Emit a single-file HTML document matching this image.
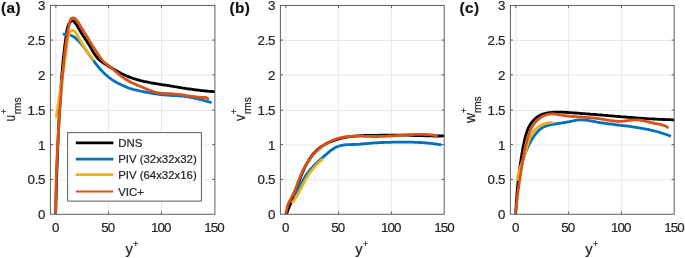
<!DOCTYPE html>
<html lang="en"><head><meta charset="utf-8"><title>rms profiles</title>
<style>html,body{margin:0;padding:0;background:#fff}svg{display:block;filter:blur(0.35px)}text{stroke:#262626;stroke-width:.22px}</style>
</head><body>
<svg width="685" height="258" viewBox="0 0 685 258" font-family='"Liberation Sans", Arial, Helvetica, sans-serif' fill="#262626">
<rect width="685" height="258" fill="#fff"/>
<g stroke="#e8e8e8" stroke-width="1"><line x1="55.85" y1="5.45" x2="55.85" y2="214.25"/><line x1="108.45" y1="5.45" x2="108.45" y2="214.25"/><line x1="161.45" y1="5.45" x2="161.45" y2="214.25"/><line x1="50.40" y1="179.85" x2="214.90" y2="179.85"/><line x1="50.40" y1="145.00" x2="214.90" y2="145.00"/><line x1="50.40" y1="110.50" x2="214.90" y2="110.50"/><line x1="50.40" y1="75.20" x2="214.90" y2="75.20"/><line x1="50.40" y1="40.45" x2="214.90" y2="40.45"/></g>
<clipPath id="cp0"><rect x="50.40" y="5.45" width="164.50" height="208.80"/></clipPath>
<g fill="none" stroke-width="2.80" stroke-linejoin="round" stroke-linecap="butt" clip-path="url(#cp0)"><path d="M55.6 214.5 L55.6 213.0 L55.7 211.5 L55.7 210.0 L55.8 208.5 L55.8 207.0 L55.9 205.5 L55.9 204.0 L55.9 202.5 L56.0 201.0 L56.0 199.5 L56.1 198.0 L56.1 196.5 L56.1 195.0 L56.2 193.5 L56.2 191.9 L56.3 190.4 L56.3 188.9 L56.4 187.4 L56.4 185.9 L56.5 184.4 L56.5 182.9 L56.6 181.4 L56.6 179.9 L56.6 178.4 L56.7 176.9 L56.7 175.4 L56.8 173.9 L56.8 172.4 L56.9 170.9 L56.9 169.4 L57.0 167.8 L57.0 166.3 L57.1 164.8 L57.2 163.3 L57.2 161.8 L57.3 160.3 L57.3 158.8 L57.4 157.3 L57.4 155.8 L57.5 154.3 L57.5 152.8 L57.6 151.3 L57.7 149.8 L57.7 148.2 L57.8 146.7 L57.8 145.2 L57.9 143.7 L58.0 142.2 L58.0 140.7 L58.1 139.2 L58.2 137.7 L58.2 136.2 L58.3 134.7 L58.4 133.2 L58.4 131.7 L58.5 130.2 L58.6 128.6 L58.7 127.1 L58.7 125.6 L58.8 124.1 L58.9 122.6 L58.9 121.1 L59.0 119.6 L59.1 118.1 L59.2 116.6 L59.3 115.1 L59.3 113.6 L59.4 112.1 L59.5 110.6 L59.6 109.1 L59.7 107.6 L59.8 106.1 L59.9 104.6 L59.9 103.1 L60.0 101.6 L60.1 100.1 L60.2 98.6 L60.3 97.1 L60.4 95.6 L60.5 94.1 L60.6 92.6 L60.7 91.1 L60.8 89.6 L60.9 88.1 L61.0 86.6 L61.1 85.1 L61.2 83.6 L61.3 82.1 L61.4 80.6 L61.5 79.1 L61.6 77.6 L61.8 76.1 L61.9 74.6 L62.0 73.1 L62.1 71.6 L62.2 70.1 L62.4 68.6 L62.5 67.1 L62.6 65.6 L62.8 64.1 L62.9 62.6 L63.0 61.1 L63.2 59.6 L63.3 58.1 L63.5 56.6 L63.7 55.1 L63.8 53.6 L64.0 52.1 L64.2 50.6 L64.3 49.1 L64.5 47.6 L64.7 46.1 L64.9 44.6 L65.1 43.1 L65.3 41.6 L65.5 40.1 L65.7 38.6 L65.9 37.0 L66.1 35.5 L66.4 34.0 L66.6 32.5 L66.8 31.0 L67.1 29.5 L67.4 28.0 L67.8 26.6 L68.3 25.2 L68.9 23.9 L69.7 22.8 L70.7 21.7 L71.9 20.8 L73.2 20.8 L74.3 21.8 L75.3 23.1 L76.2 24.3 L77.1 25.6 L77.9 27.0 L78.6 28.3 L79.3 29.6 L80.1 30.9 L80.9 32.2 L81.7 33.5 L82.5 34.7 L83.3 36.0 L84.1 37.2 L85.0 38.4 L85.8 39.7 L86.6 40.9 L87.5 42.2 L88.3 43.5 L89.0 44.8 L89.8 46.1 L90.6 47.4 L91.3 48.7 L92.1 50.1 L92.8 51.4 L93.6 52.7 L94.5 54.0 L95.3 55.2 L96.2 56.4 L97.1 57.6 L98.1 58.7 L99.2 59.7 L100.3 60.7 L101.5 61.6 L102.7 62.4 L104.0 63.3 L105.2 64.1 L106.5 64.9 L107.8 65.7 L109.1 66.5 L110.4 67.3 L111.7 68.0 L113.0 68.8 L114.3 69.6 L115.6 70.3 L116.9 71.1 L118.3 71.8 L119.6 72.5 L120.9 73.2 L122.3 73.9 L123.6 74.5 L125.0 75.2 L126.4 75.8 L127.7 76.4 L129.1 76.9 L130.5 77.5 L131.9 78.0 L133.3 78.5 L134.8 78.9 L136.2 79.4 L137.6 79.8 L139.1 80.2 L140.5 80.6 L142.0 80.9 L143.5 81.3 L144.9 81.6 L146.4 81.9 L147.9 82.2 L149.4 82.5 L150.9 82.8 L152.3 83.0 L153.8 83.3 L155.3 83.5 L156.8 83.8 L158.3 84.0 L159.8 84.3 L161.3 84.5 L162.8 84.8 L164.3 85.0 L165.8 85.2 L167.3 85.5 L168.8 85.7 L170.2 86.0 L171.7 86.2 L173.2 86.4 L174.7 86.7 L176.2 86.9 L177.7 87.2 L179.2 87.4 L180.6 87.6 L182.1 87.9 L183.6 88.1 L185.1 88.3 L186.6 88.6 L188.1 88.8 L189.5 89.0 L191.0 89.2 L192.5 89.4 L194.0 89.6 L195.5 89.8 L197.0 90.0 L198.5 90.2 L200.0 90.4 L201.5 90.6 L203.0 90.7 L204.5 90.9 L206.0 91.0 L207.5 91.2 L209.0 91.3 L210.5 91.4 L212.0 91.5 L213.5 91.6 L215.0 91.7" stroke="#000000"/><path d="M62.8 34.2 L64.4 34.1 L66.0 34.2 L67.5 34.4 L69.0 34.7 L70.4 35.2 L71.8 35.8 L73.1 36.4 L74.3 37.2 L75.5 38.1 L76.7 39.1 L77.8 40.1 L78.9 41.2 L79.9 42.3 L80.9 43.5 L81.9 44.7 L82.9 45.9 L83.8 47.2 L84.8 48.4 L85.7 49.7 L86.6 50.9 L87.5 52.2 L88.4 53.4 L89.2 54.7 L90.1 55.9 L91.0 57.2 L91.9 58.4 L92.8 59.6 L93.7 60.8 L94.5 62.1 L95.5 63.3 L96.4 64.5 L97.3 65.6 L98.3 66.8 L99.2 68.0 L100.2 69.1 L101.3 70.2 L102.3 71.3 L103.4 72.4 L104.5 73.5 L105.6 74.5 L106.7 75.5 L107.9 76.5 L109.1 77.5 L110.3 78.4 L111.5 79.3 L112.8 80.2 L114.1 81.0 L115.4 81.8 L116.7 82.5 L118.1 83.2 L119.5 83.9 L120.9 84.6 L122.2 85.2 L123.6 85.8 L125.0 86.4 L126.4 87.1 L127.8 87.6 L129.3 88.2 L130.7 88.7 L132.1 89.1 L133.6 89.5 L135.1 89.9 L136.6 90.2 L138.0 90.5 L139.5 90.9 L141.0 91.2 L142.5 91.5 L144.0 91.8 L145.5 92.1 L147.0 92.4 L148.5 92.7 L150.0 93.0 L151.5 93.2 L153.0 93.5 L154.5 93.7 L156.0 94.0 L157.5 94.2 L159.0 94.4 L160.6 94.6 L162.1 94.7 L163.6 94.8 L165.1 95.0 L166.6 95.1 L168.2 95.2 L169.7 95.3 L171.2 95.4 L172.7 95.5 L174.3 95.5 L175.8 95.6 L177.3 95.7 L178.8 95.8 L180.4 96.0 L181.9 96.1 L183.4 96.2 L184.9 96.4 L186.4 96.6 L187.9 96.8 L189.4 97.1 L190.9 97.3 L192.4 97.6 L193.9 97.9 L195.4 98.3 L196.9 98.6 L198.4 99.0 L199.8 99.4 L201.3 99.8 L202.8 100.2 L204.3 100.6 L205.7 101.0 L207.2 101.4 L208.7 101.8 L210.1 102.2 L211.6 102.6" stroke="#0072bd"/><path d="M56.2 117.9 L56.5 116.4 L56.7 114.9 L56.9 113.4 L57.1 111.9 L57.3 110.4 L57.6 108.9 L57.8 107.4 L58.0 105.8 L58.2 104.3 L58.4 102.8 L58.7 101.3 L58.9 99.8 L59.1 98.3 L59.3 96.8 L59.6 95.3 L59.8 93.8 L60.0 92.3 L60.2 90.8 L60.5 89.3 L60.7 87.8 L60.9 86.3 L61.1 84.8 L61.4 83.3 L61.6 81.7 L61.8 80.2 L62.0 78.7 L62.3 77.2 L62.5 75.7 L62.7 74.2 L62.9 72.7 L63.2 71.2 L63.4 69.7 L63.6 68.2 L63.8 66.7 L64.1 65.2 L64.3 63.7 L64.5 62.2 L64.7 60.7 L64.9 59.2 L65.2 57.7 L65.4 56.2 L65.6 54.7 L65.8 53.2 L66.0 51.6 L66.2 50.1 L66.4 48.6 L66.6 47.1 L66.8 45.6 L67.0 44.1 L67.2 42.6 L67.4 41.0 L67.6 39.5 L67.9 38.0 L68.2 36.5 L68.7 35.1 L69.3 33.6 L70.0 32.2 L70.9 31.0 L71.9 30.3 L73.2 30.5 L74.5 31.3 L75.6 32.4 L76.4 33.7 L77.2 35.0 L78.0 36.4 L78.8 37.8 L79.5 39.1 L80.3 40.5 L81.1 41.8 L81.8 43.1 L82.6 44.4 L83.4 45.7 L84.3 46.9 L85.1 48.2 L85.9 49.5 L86.8 50.7 L87.6 51.9 L88.5 53.2 L89.4 54.4 L90.3 55.6 L91.2 56.8 L92.1 58.1 L93.0 59.3 L94.0 60.5" stroke="#edb120"/><path d="M55.6 214.5 L55.6 213.0 L55.6 211.5 L55.6 210.0 L55.7 208.5 L55.7 206.9 L55.7 205.4 L55.7 203.9 L55.7 202.4 L55.8 200.9 L55.8 199.4 L55.8 197.9 L55.8 196.4 L55.9 194.9 L55.9 193.4 L55.9 191.8 L56.0 190.3 L56.0 188.8 L56.0 187.3 L56.1 185.8 L56.1 184.3 L56.2 182.8 L56.2 181.3 L56.3 179.8 L56.3 178.3 L56.4 176.8 L56.4 175.3 L56.5 173.7 L56.5 172.2 L56.6 170.7 L56.6 169.2 L56.7 167.7 L56.7 166.2 L56.8 164.7 L56.9 163.2 L56.9 161.7 L57.0 160.2 L57.1 158.7 L57.1 157.2 L57.2 155.7 L57.3 154.2 L57.3 152.7 L57.4 151.1 L57.5 149.6 L57.6 148.1 L57.6 146.6 L57.7 145.1 L57.8 143.6 L57.9 142.1 L58.0 140.6 L58.0 139.1 L58.1 137.6 L58.2 136.1 L58.3 134.6 L58.4 133.1 L58.5 131.6 L58.6 130.1 L58.6 128.6 L58.7 127.1 L58.8 125.6 L58.9 124.1 L59.0 122.6 L59.1 121.0 L59.2 119.5 L59.3 118.0 L59.4 116.5 L59.5 115.0 L59.6 113.5 L59.7 112.0 L59.8 110.5 L59.9 109.0 L60.0 107.5 L60.2 106.0 L60.3 104.5 L60.4 103.0 L60.5 101.5 L60.6 100.0 L60.7 98.5 L60.8 97.0 L60.9 95.4 L61.1 93.9 L61.2 92.4 L61.3 90.9 L61.4 89.4 L61.5 87.9 L61.6 86.4 L61.8 84.9 L61.9 83.4 L62.0 81.9 L62.1 80.4 L62.3 78.9 L62.4 77.4 L62.5 75.8 L62.7 74.3 L62.8 72.8 L62.9 71.3 L63.1 69.8 L63.2 68.3 L63.3 66.8 L63.5 65.3 L63.6 63.8 L63.8 62.3 L63.9 60.8 L64.1 59.3 L64.2 57.8 L64.4 56.3 L64.6 54.8 L64.7 53.3 L64.9 51.8 L65.1 50.3 L65.3 48.8 L65.5 47.3 L65.7 45.8 L65.9 44.3 L66.1 42.9 L66.3 41.4 L66.5 39.9 L66.7 38.4 L66.9 36.9 L67.2 35.5 L67.4 34.0 L67.7 32.5 L67.9 31.1 L68.2 29.6 L68.5 28.1 L68.8 26.6 L69.1 25.0 L69.5 23.5 L69.8 21.9 L70.3 20.3 L70.9 19.0 L71.9 18.1 L73.2 17.9 L74.5 18.3 L75.7 19.2 L76.7 20.3 L77.6 21.5 L78.4 22.8 L79.2 24.1 L80.0 25.4 L80.8 26.7 L81.6 28.0 L82.4 29.3 L83.2 30.6 L84.0 31.9 L84.8 33.2 L85.6 34.5 L86.4 35.8 L87.2 37.0 L88.0 38.3 L88.7 39.6 L89.5 40.9 L90.3 42.2 L91.1 43.4 L91.9 44.7 L92.7 46.0 L93.5 47.2 L94.3 48.5 L95.1 49.8 L95.9 51.1 L96.7 52.3 L97.6 53.6 L98.4 54.8 L99.2 56.1 L100.1 57.3 L101.0 58.6 L101.9 59.8 L102.9 60.9 L104.0 62.0 L105.1 63.0 L106.3 63.9 L107.6 64.8 L108.8 65.7 L110.0 66.6 L111.1 67.6 L112.2 68.6 L113.4 69.5 L114.5 70.5 L115.6 71.5 L116.8 72.5 L118.0 73.5 L119.1 74.4 L120.3 75.4 L121.5 76.3 L122.7 77.2 L124.0 78.1 L125.2 78.9 L126.5 79.7 L127.8 80.5 L129.1 81.3 L130.4 82.0 L131.7 82.7 L133.1 83.3 L134.4 83.9 L135.8 84.5 L137.2 85.1 L138.6 85.7 L140.0 86.3 L141.4 86.8 L142.8 87.4 L144.2 88.0 L145.6 88.6 L147.0 89.2 L148.4 89.8 L149.8 90.3 L151.2 90.9 L152.7 91.3 L154.1 91.8 L155.6 92.2 L157.0 92.6 L158.5 92.8 L160.0 93.1 L161.5 93.2 L163.0 93.3 L164.5 93.4 L166.0 93.5 L167.5 93.6 L169.0 93.6 L170.5 93.7 L172.0 93.8 L173.5 94.0 L175.0 94.1 L176.5 94.2 L178.0 94.4 L179.5 94.5 L181.0 94.7 L182.5 94.9 L184.0 95.1 L185.5 95.4 L187.0 95.6 L188.5 95.8 L190.0 96.1 L191.5 96.3 L192.9 96.5 L194.4 96.7 L195.9 96.9 L197.4 97.1 L198.9 97.2 L200.4 97.3 L201.9 97.4 L203.5 97.5 L205.0 97.5 L206.4 97.7 L207.6 98.5 L208.5 100.0" stroke="#d95319"/></g>
<rect x="67.6" y="132.6" width="133.8" height="68.5" fill="#fff" stroke="#5e5e5e" stroke-width="1.00"/>
<line x1="75.8" y1="142.9" x2="113.4" y2="142.9" stroke="#000000" stroke-width="2.8"/>
<text x="118.2" y="147.1" font-size="11.4">DNS</text>
<line x1="75.8" y1="159.1" x2="113.4" y2="159.1" stroke="#0072bd" stroke-width="2.8"/>
<text x="118.2" y="163.3" font-size="11.4">PIV (32x32x32)</text>
<line x1="75.8" y1="174.7" x2="113.4" y2="174.7" stroke="#edb120" stroke-width="2.8"/>
<text x="118.2" y="178.9" font-size="11.4">PIV (64x32x16)</text>
<line x1="75.8" y1="191.5" x2="113.4" y2="191.5" stroke="#d95319" stroke-width="1.9"/>
<text x="118.2" y="195.7" font-size="11.4">VIC+</text>
<g stroke="#5e5e5e" stroke-width="1.00"><rect x="50.40" y="5.45" width="164.50" height="208.80" fill="none"/><line x1="55.85" y1="214.25" x2="55.85" y2="211.65"/><line x1="55.85" y1="5.45" x2="55.85" y2="8.05"/><line x1="108.45" y1="214.25" x2="108.45" y2="211.65"/><line x1="108.45" y1="5.45" x2="108.45" y2="8.05"/><line x1="161.45" y1="214.25" x2="161.45" y2="211.65"/><line x1="161.45" y1="5.45" x2="161.45" y2="8.05"/><line x1="50.40" y1="179.45" x2="53.00" y2="179.45"/><line x1="214.90" y1="179.45" x2="212.30" y2="179.45"/><line x1="50.40" y1="144.60" x2="53.00" y2="144.60"/><line x1="214.90" y1="144.60" x2="212.30" y2="144.60"/><line x1="50.40" y1="110.10" x2="53.00" y2="110.10"/><line x1="214.90" y1="110.10" x2="212.30" y2="110.10"/><line x1="50.40" y1="74.80" x2="53.00" y2="74.80"/><line x1="214.90" y1="74.80" x2="212.30" y2="74.80"/><line x1="50.40" y1="40.05" x2="53.00" y2="40.05"/><line x1="214.90" y1="40.05" x2="212.30" y2="40.05"/></g>
<g font-size="13.33"><text x="55.15" y="232.1" text-anchor="middle" letter-spacing="-0.9">0</text><text x="107.75" y="232.1" text-anchor="middle" letter-spacing="-0.9">50</text><text x="160.75" y="232.1" text-anchor="middle" letter-spacing="-0.9">100</text><text x="213.90" y="232.1" text-anchor="middle" letter-spacing="-0.9">150</text><text x="45.50" y="219.20" text-anchor="end" letter-spacing="0.0">0</text><text x="45.20" y="184.35" text-anchor="end" letter-spacing="-0.3">0.5</text><text x="45.50" y="149.50" text-anchor="end" letter-spacing="0.0">1</text><text x="45.20" y="115.00" text-anchor="end" letter-spacing="-0.3">1.5</text><text x="45.50" y="79.70" text-anchor="end" letter-spacing="0.0">2</text><text x="45.20" y="44.95" text-anchor="end" letter-spacing="-0.3">2.5</text><text x="45.50" y="10.35" text-anchor="end" letter-spacing="0.0">3</text></g>
<text x="125.50" y="253.6" font-size="14.67">y</text><text x="133.30" y="246.8" font-size="8.6">+</text>
<g transform="translate(14.50 121.80) rotate(-90)"><text x="0" y="0" font-size="14.67" transform="translate(0.3 0) scale(0.80 1)">u</text><text x="7.7" y="-7.8" font-size="8.6">+</text><text x="7.6" y="6.4" font-size="10">rms</text></g>
<text x="0.9" y="12.7" font-size="15.3" letter-spacing="0.5" font-weight="bold" fill="#111">(a)</text>
<g stroke="#e8e8e8" stroke-width="1"><line x1="285.85" y1="5.45" x2="285.85" y2="214.25"/><line x1="338.45" y1="5.45" x2="338.45" y2="214.25"/><line x1="391.45" y1="5.45" x2="391.45" y2="214.25"/><line x1="280.40" y1="179.85" x2="444.20" y2="179.85"/><line x1="280.40" y1="145.00" x2="444.20" y2="145.00"/><line x1="280.40" y1="110.50" x2="444.20" y2="110.50"/><line x1="280.40" y1="75.20" x2="444.20" y2="75.20"/><line x1="280.40" y1="40.45" x2="444.20" y2="40.45"/></g>
<clipPath id="cp1"><rect x="280.40" y="5.45" width="163.80" height="208.80"/></clipPath>
<g fill="none" stroke-width="2.80" stroke-linejoin="round" stroke-linecap="butt" clip-path="url(#cp1)"><path d="M286.4 214.5 L286.9 213.0 L287.4 211.6 L287.9 210.2 L288.5 208.8 L289.1 207.4 L289.6 206.0 L290.2 204.6 L290.8 203.2 L291.3 201.8 L291.9 200.4 L292.5 199.0 L293.0 197.6 L293.6 196.1 L294.1 194.7 L294.6 193.3 L295.2 191.9 L295.7 190.5 L296.2 189.1 L296.7 187.6 L297.2 186.2 L297.7 184.8 L298.2 183.4 L298.8 181.9 L299.3 180.5 L299.8 179.1 L300.4 177.7 L300.9 176.3 L301.5 174.9 L302.1 173.5 L302.7 172.1 L303.3 170.7 L303.9 169.3 L304.6 167.9 L305.2 166.5 L305.9 165.1 L306.7 163.8 L307.4 162.5 L308.2 161.2 L309.0 159.9 L309.8 158.6 L310.7 157.3 L311.6 156.1 L312.5 154.9 L313.5 153.8 L314.5 152.7 L315.5 151.6 L316.6 150.5 L317.7 149.5 L318.8 148.5 L320.0 147.6 L321.2 146.7 L322.5 145.9 L323.8 145.1 L325.1 144.3 L326.4 143.6 L327.8 142.9 L329.2 142.3 L330.6 141.7 L332.0 141.1 L333.4 140.6 L334.8 140.1 L336.3 139.6 L337.7 139.2 L339.2 138.8 L340.6 138.4 L342.1 138.1 L343.6 137.7 L345.0 137.5 L346.5 137.2 L348.0 137.0 L349.5 136.7 L351.0 136.5 L352.5 136.4 L354.0 136.2 L355.5 136.1 L357.1 135.9 L358.6 135.8 L360.1 135.7 L361.6 135.6 L363.2 135.6 L364.7 135.5 L366.2 135.5 L367.7 135.4 L369.3 135.4 L370.8 135.4 L372.3 135.3 L373.8 135.3 L375.4 135.3 L376.9 135.3 L378.4 135.3 L379.9 135.2 L381.4 135.2 L383.0 135.2 L384.5 135.2 L386.0 135.2 L387.5 135.1 L389.0 135.1 L390.5 135.1 L392.0 135.1 L393.5 135.1 L395.0 135.1 L396.5 135.1 L398.0 135.1 L399.5 135.1 L401.0 135.1 L402.5 135.1 L404.0 135.1 L405.6 135.1 L407.1 135.2 L408.6 135.2 L410.1 135.3 L411.6 135.3 L413.1 135.4 L414.7 135.5 L416.2 135.5 L417.7 135.6 L419.2 135.6 L420.7 135.7 L422.3 135.7 L423.8 135.8 L425.3 135.8 L426.8 135.8 L428.3 135.9 L429.9 135.9 L431.4 135.9 L432.9 135.9 L434.4 136.0 L435.9 136.0 L437.4 136.0 L439.0 136.0 L440.5 136.0 L442.0 135.9 L443.5 135.9 L445.0 135.9" stroke="#000000"/><path d="M294.5 197.4 L295.1 196.0 L295.7 194.7 L296.4 193.3 L297.0 191.9 L297.6 190.6 L298.3 189.2 L299.0 187.9 L299.7 186.5 L300.4 185.1 L301.1 183.8 L301.8 182.4 L302.5 181.1 L303.3 179.8 L304.0 178.5 L304.8 177.2 L305.7 175.9 L306.5 174.6 L307.4 173.4 L308.2 172.2 L309.2 171.0 L310.1 169.8 L311.1 168.7 L312.1 167.6 L313.1 166.5 L314.1 165.4 L315.2 164.3 L316.3 163.3 L317.4 162.2 L318.5 161.2 L319.6 160.2 L320.8 159.2 L321.9 158.2 L323.1 157.2 L324.2 156.1 L325.3 155.1 L326.5 154.1 L327.7 153.1 L328.8 152.1 L330.0 151.1 L331.2 150.2 L332.5 149.3 L333.7 148.5 L335.0 147.8 L336.3 147.1 L337.7 146.5 L339.1 146.0 L340.5 145.6 L341.9 145.3 L343.4 145.0 L344.9 144.8 L346.4 144.7 L347.9 144.6 L349.5 144.6 L351.0 144.6 L352.5 144.5 L354.1 144.5 L355.6 144.4 L357.1 144.4 L358.6 144.3 L360.1 144.2 L361.7 144.0 L363.2 143.9 L364.7 143.7 L366.2 143.6 L367.7 143.5 L369.2 143.3 L370.7 143.2 L372.2 143.1 L373.7 142.9 L375.2 142.8 L376.7 142.8 L378.2 142.7 L379.7 142.6 L381.2 142.5 L382.7 142.5 L384.2 142.4 L385.8 142.4 L387.3 142.3 L388.8 142.3 L390.3 142.3 L391.8 142.2 L393.3 142.2 L394.8 142.2 L396.4 142.2 L397.9 142.2 L399.4 142.1 L400.9 142.1 L402.4 142.1 L403.9 142.1 L405.5 142.1 L407.0 142.1 L408.5 142.1 L410.0 142.2 L411.5 142.2 L413.0 142.2 L414.6 142.3 L416.1 142.3 L417.6 142.4 L419.1 142.5 L420.6 142.5 L422.1 142.6 L423.6 142.7 L425.1 142.9 L426.6 143.0 L428.1 143.1 L429.6 143.3 L431.1 143.4 L432.6 143.6 L434.1 143.8 L435.6 144.0 L437.1 144.2 L438.6 144.5 L440.1 144.7 L441.6 145.0" stroke="#0072bd"/><path d="M291.9 203.0 L292.8 201.8 L293.8 200.6 L294.7 199.3 L295.5 198.0 L296.3 196.7 L297.1 195.4 L297.9 194.0 L298.7 192.7 L299.4 191.3 L300.1 190.0 L300.8 188.6 L301.6 187.2 L302.3 185.8 L303.0 184.4 L303.7 183.0 L304.5 181.7 L305.2 180.3 L306.0 179.0 L306.8 177.6 L307.6 176.3 L308.4 175.0 L309.3 173.7 L310.2 172.5 L311.1 171.2 L312.1 170.0 L313.1 168.8 L314.1 167.6 L315.1 166.4 L316.1 165.3 L317.2 164.1 L318.3 163.0 L319.5 162.0 L320.6 160.9 L321.8 159.9 L323.0 158.9" stroke="#edb120"/><path d="M285.7 214.5 L286.0 213.0 L286.3 211.5 L286.6 210.0 L287.0 208.6 L287.3 207.1 L287.7 205.7 L288.2 204.2 L288.7 202.8 L289.4 201.5 L290.0 200.1 L290.7 198.8 L291.4 197.4 L292.2 196.1 L292.8 194.7 L293.5 193.3 L294.1 192.0 L294.7 190.6 L295.3 189.2 L295.9 187.8 L296.4 186.4 L297.0 185.0 L297.5 183.6 L298.0 182.2 L298.6 180.8 L299.1 179.4 L299.6 178.0 L300.2 176.6 L300.8 175.2 L301.4 173.8 L302.0 172.5 L302.6 171.1 L303.2 169.7 L303.9 168.4 L304.6 167.0 L305.4 165.7 L306.2 164.4 L307.0 163.1 L307.8 161.8 L308.7 160.6 L309.6 159.3 L310.5 158.1 L311.4 156.9 L312.4 155.7 L313.4 154.6 L314.5 153.4 L315.5 152.3 L316.6 151.3 L317.7 150.2 L318.8 149.2 L320.0 148.2 L321.1 147.2 L322.3 146.3 L323.6 145.4 L324.8 144.6 L326.1 143.8 L327.3 143.0 L328.6 142.2 L330.0 141.5 L331.3 140.9 L332.6 140.3 L334.0 139.7 L335.4 139.2 L336.8 138.7 L338.2 138.3 L339.7 137.9 L341.1 137.6 L342.6 137.3 L344.1 137.0 L345.6 136.8 L347.1 136.6 L348.6 136.5 L350.1 136.4 L351.6 136.3 L353.2 136.2 L354.7 136.2 L356.2 136.2 L357.8 136.2 L359.3 136.2 L360.9 136.2 L362.4 136.2 L364.0 136.3 L365.5 136.3 L367.0 136.4 L368.6 136.4 L370.1 136.4 L371.6 136.5 L373.2 136.5 L374.7 136.5 L376.2 136.5 L377.7 136.5 L379.2 136.4 L380.7 136.4 L382.1 136.4 L383.6 136.3 L385.1 136.3 L386.6 136.2 L388.1 136.1 L389.6 136.0 L391.1 136.0 L392.5 135.9 L394.0 135.8 L395.5 135.7 L397.0 135.6 L398.5 135.5 L400.1 135.3 L401.6 135.2 L403.1 135.1 L404.6 135.0 L406.1 134.9 L407.6 134.8 L409.2 134.7 L410.7 134.6 L412.2 134.6 L413.7 134.5 L415.2 134.4 L416.8 134.4 L418.3 134.4 L419.8 134.4 L421.3 134.4 L422.8 134.4 L424.3 134.4 L425.9 134.5 L427.4 134.6 L428.9 134.7 L430.4 134.8 L431.9 135.0 L433.3 135.2 L434.8 135.4 L436.3 135.7 L437.8 136.0" stroke="#d95319"/></g>
<g stroke="#5e5e5e" stroke-width="1.00"><rect x="280.40" y="5.45" width="163.80" height="208.80" fill="none"/><line x1="285.85" y1="214.25" x2="285.85" y2="211.65"/><line x1="285.85" y1="5.45" x2="285.85" y2="8.05"/><line x1="338.45" y1="214.25" x2="338.45" y2="211.65"/><line x1="338.45" y1="5.45" x2="338.45" y2="8.05"/><line x1="391.45" y1="214.25" x2="391.45" y2="211.65"/><line x1="391.45" y1="5.45" x2="391.45" y2="8.05"/><line x1="280.40" y1="179.45" x2="283.00" y2="179.45"/><line x1="444.20" y1="179.45" x2="441.60" y2="179.45"/><line x1="280.40" y1="144.60" x2="283.00" y2="144.60"/><line x1="444.20" y1="144.60" x2="441.60" y2="144.60"/><line x1="280.40" y1="110.10" x2="283.00" y2="110.10"/><line x1="444.20" y1="110.10" x2="441.60" y2="110.10"/><line x1="280.40" y1="74.80" x2="283.00" y2="74.80"/><line x1="444.20" y1="74.80" x2="441.60" y2="74.80"/><line x1="280.40" y1="40.05" x2="283.00" y2="40.05"/><line x1="444.20" y1="40.05" x2="441.60" y2="40.05"/></g>
<g font-size="13.33"><text x="285.15" y="232.1" text-anchor="middle" letter-spacing="-0.9">0</text><text x="337.75" y="232.1" text-anchor="middle" letter-spacing="-0.9">50</text><text x="390.75" y="232.1" text-anchor="middle" letter-spacing="-0.9">100</text><text x="443.90" y="232.1" text-anchor="middle" letter-spacing="-0.9">150</text><text x="275.50" y="219.20" text-anchor="end" letter-spacing="0.0">0</text><text x="275.20" y="184.35" text-anchor="end" letter-spacing="-0.3">0.5</text><text x="275.50" y="149.50" text-anchor="end" letter-spacing="0.0">1</text><text x="275.20" y="115.00" text-anchor="end" letter-spacing="-0.3">1.5</text><text x="275.50" y="79.70" text-anchor="end" letter-spacing="0.0">2</text><text x="275.20" y="44.95" text-anchor="end" letter-spacing="-0.3">2.5</text><text x="275.50" y="10.35" text-anchor="end" letter-spacing="0.0">3</text></g>
<text x="355.15" y="253.6" font-size="14.67">y</text><text x="362.95" y="246.8" font-size="8.6">+</text>
<g transform="translate(244.50 121.30) rotate(-90)"><text x="0" y="0" font-size="14.67" transform="translate(0.3 0) scale(0.87 1)">v</text><text x="7.4" y="-7.8" font-size="8.6">+</text><text x="7.3" y="6.4" font-size="10">rms</text></g>
<text x="229.4" y="12.7" font-size="15.3" letter-spacing="0.5" font-weight="bold" fill="#111">(b)</text>
<g stroke="#e8e8e8" stroke-width="1"><line x1="515.85" y1="5.45" x2="515.85" y2="214.25"/><line x1="568.45" y1="5.45" x2="568.45" y2="214.25"/><line x1="621.45" y1="5.45" x2="621.45" y2="214.25"/><line x1="510.40" y1="179.85" x2="674.20" y2="179.85"/><line x1="510.40" y1="145.00" x2="674.20" y2="145.00"/><line x1="510.40" y1="110.50" x2="674.20" y2="110.50"/><line x1="510.40" y1="75.20" x2="674.20" y2="75.20"/><line x1="510.40" y1="40.45" x2="674.20" y2="40.45"/></g>
<clipPath id="cp2"><rect x="510.40" y="5.45" width="163.80" height="208.80"/></clipPath>
<g fill="none" stroke-width="2.80" stroke-linejoin="round" stroke-linecap="butt" clip-path="url(#cp2)"><path d="M515.7 214.5 L515.7 213.0 L515.8 211.5 L515.9 209.9 L516.0 208.4 L516.1 206.9 L516.2 205.4 L516.2 203.8 L516.3 202.3 L516.4 200.8 L516.6 199.3 L516.7 197.8 L516.8 196.3 L516.9 194.8 L517.0 193.3 L517.1 191.7 L517.3 190.2 L517.4 188.7 L517.5 187.2 L517.7 185.7 L517.8 184.2 L518.0 182.7 L518.1 181.3 L518.3 179.8 L518.5 178.3 L518.6 176.8 L518.8 175.3 L519.0 173.8 L519.2 172.3 L519.4 170.8 L519.6 169.3 L519.8 167.8 L520.0 166.3 L520.2 164.8 L520.4 163.3 L520.6 161.8 L520.9 160.3 L521.1 158.8 L521.3 157.3 L521.6 155.8 L521.8 154.3 L522.1 152.8 L522.4 151.3 L522.6 149.8 L522.9 148.3 L523.2 146.8 L523.5 145.3 L523.8 143.8 L524.1 142.2 L524.4 140.7 L524.7 139.2 L525.1 137.7 L525.5 136.2 L525.9 134.8 L526.3 133.3 L526.8 131.9 L527.3 130.5 L527.9 129.1 L528.5 127.7 L529.2 126.4 L529.9 125.1 L530.7 123.8 L531.6 122.6 L532.5 121.5 L533.5 120.3 L534.5 119.3 L535.6 118.3 L536.8 117.3 L538.1 116.4 L539.4 115.7 L540.7 115.0 L542.1 114.4 L543.6 113.9 L545.0 113.5 L546.5 113.2 L548.0 112.9 L549.5 112.6 L551.0 112.5 L552.5 112.3 L554.0 112.2 L555.5 112.1 L557.0 112.1 L558.5 112.1 L560.1 112.1 L561.6 112.2 L563.1 112.2 L564.6 112.3 L566.2 112.4 L567.7 112.5 L569.2 112.6 L570.7 112.7 L572.3 112.8 L573.8 112.9 L575.3 113.0 L576.8 113.1 L578.3 113.2 L579.8 113.3 L581.3 113.5 L582.8 113.6 L584.3 113.7 L585.8 113.8 L587.3 113.9 L588.8 114.0 L590.4 114.2 L591.9 114.3 L593.4 114.4 L594.9 114.5 L596.4 114.6 L597.9 114.8 L599.4 114.9 L600.9 115.0 L602.4 115.1 L603.9 115.3 L605.4 115.4 L606.9 115.5 L608.4 115.7 L609.9 115.8 L611.5 115.9 L613.0 116.0 L614.5 116.2 L616.0 116.3 L617.5 116.4 L619.0 116.5 L620.5 116.7 L622.0 116.8 L623.5 116.9 L625.1 117.0 L626.6 117.1 L628.1 117.3 L629.6 117.4 L631.1 117.5 L632.6 117.6 L634.1 117.7 L635.7 117.8 L637.2 118.0 L638.7 118.1 L640.2 118.2 L641.7 118.3 L643.2 118.4 L644.7 118.5 L646.2 118.6 L647.8 118.7 L649.3 118.8 L650.8 118.9 L652.3 118.9 L653.8 119.0 L655.3 119.1 L656.8 119.2 L658.4 119.3 L659.9 119.3 L661.4 119.4 L662.9 119.5 L664.4 119.5 L665.9 119.6 L667.4 119.6 L668.9 119.7 L670.5 119.7 L672.0 119.8 L673.5 119.8 L675.0 119.9" stroke="#000000"/><path d="M521.0 168.0 L521.4 166.5 L521.7 165.0 L522.1 163.5 L522.5 162.1 L522.9 160.6 L523.3 159.1 L523.8 157.7 L524.2 156.3 L524.7 154.8 L525.2 153.4 L525.7 152.0 L526.3 150.6 L526.9 149.2 L527.5 147.8 L528.1 146.5 L528.8 145.1 L529.5 143.7 L530.2 142.4 L530.9 141.1 L531.7 139.7 L532.5 138.4 L533.4 137.1 L534.2 135.8 L535.2 134.6 L536.1 133.3 L537.1 132.2 L538.2 131.1 L539.3 130.0 L540.4 129.1 L541.6 128.2 L542.9 127.4 L544.2 126.8 L545.6 126.2 L547.0 125.7 L548.4 125.3 L549.9 124.9 L551.4 124.6 L552.9 124.3 L554.5 124.0 L556.0 123.8 L557.5 123.6 L559.1 123.4 L560.6 123.2 L562.1 123.0 L563.6 122.7 L565.1 122.5 L566.6 122.2 L568.0 122.0 L569.5 121.7 L571.0 121.3 L572.5 121.0 L574.0 120.7 L575.5 120.4 L577.0 120.1 L578.5 119.9 L580.0 119.9 L581.5 119.8 L583.0 119.9 L584.5 120.0 L586.0 120.2 L587.5 120.4 L589.0 120.6 L590.5 120.9 L592.0 121.2 L593.5 121.4 L595.0 121.7 L596.5 122.0 L598.0 122.3 L599.5 122.5 L601.0 122.8 L602.5 123.0 L604.0 123.2 L605.5 123.4 L607.0 123.6 L608.5 123.8 L610.0 124.0 L611.5 124.2 L613.1 124.4 L614.6 124.6 L616.1 124.8 L617.6 125.0 L619.1 125.1 L620.6 125.3 L622.1 125.5 L623.6 125.7 L625.1 125.9 L626.6 126.0 L628.2 126.2 L629.7 126.4 L631.2 126.6 L632.7 126.9 L634.2 127.1 L635.7 127.3 L637.2 127.5 L638.7 127.8 L640.2 128.0 L641.7 128.3 L643.2 128.6 L644.7 128.8 L646.2 129.1 L647.7 129.4 L649.2 129.7 L650.6 130.1 L652.1 130.4 L653.6 130.8 L655.1 131.1 L656.6 131.5 L658.0 131.9 L659.5 132.3 L660.9 132.8 L662.4 133.2 L663.8 133.7 L665.3 134.2 L666.7 134.7 L668.2 135.2 L669.6 135.8 L671.0 136.3" stroke="#0072bd"/><path d="M517.4 180.8 L517.6 179.2 L517.8 177.7 L518.0 176.1 L518.3 174.6 L518.7 173.1 L519.1 171.6 L519.5 170.1 L519.9 168.6 L520.4 167.2 L520.9 165.7 L521.4 164.3 L521.9 162.8 L522.5 161.4 L523.0 159.9 L523.5 158.5 L524.0 157.0 L524.5 155.5 L525.0 154.0 L525.4 152.5 L525.9 151.0 L526.3 149.5 L526.7 147.9 L527.1 146.4 L527.5 144.9 L528.0 143.4 L528.4 141.9 L528.9 140.4 L529.5 139.0 L530.1 137.5 L530.7 136.1 L531.4 134.8 L532.2 133.5 L533.0 132.2 L533.9 131.0 L534.9 129.9 L536.0 128.8 L537.2 127.8 L538.4 126.8 L539.7 126.0 L541.1 125.2 L542.5 124.5 L544.0 123.9 L545.5 123.4 L547.0 123.1 L548.5 122.8 L550.1 122.7 L551.7 122.7 L553.2 122.8" stroke="#edb120"/><path d="M515.5 214.5 L515.6 213.0 L515.8 211.5 L515.9 210.0 L516.1 208.5 L516.3 207.0 L516.4 205.5 L516.6 204.0 L516.8 202.5 L516.9 201.0 L517.1 199.5 L517.3 198.0 L517.5 196.5 L517.7 195.0 L517.8 193.5 L518.0 192.0 L518.2 190.5 L518.4 189.0 L518.6 187.5 L518.8 186.0 L519.0 184.5 L519.2 183.0 L519.5 181.5 L519.7 180.0 L519.9 178.5 L520.1 177.0 L520.3 175.5 L520.6 174.0 L520.8 172.5 L521.0 171.0 L521.3 169.5 L521.5 168.0 L521.7 166.5 L522.0 165.0 L522.2 163.5 L522.5 162.0 L522.7 160.5 L523.0 159.1 L523.2 157.6 L523.5 156.1 L523.8 154.6 L524.1 153.1 L524.3 151.6 L524.6 150.1 L525.0 148.7 L525.3 147.2 L525.6 145.7 L526.0 144.2 L526.3 142.8 L526.7 141.3 L527.1 139.9 L527.5 138.4 L528.0 136.9 L528.4 135.5 L528.9 134.1 L529.4 132.6 L530.0 131.2 L530.6 129.8 L531.2 128.5 L531.9 127.1 L532.7 125.8 L533.5 124.5 L534.4 123.3 L535.4 122.1 L536.4 121.0 L537.5 120.0 L538.6 119.0 L539.9 118.1 L541.1 117.2 L542.4 116.4 L543.8 115.8 L545.2 115.2 L546.6 114.7 L548.0 114.3 L549.5 114.1 L551.0 113.9 L552.4 113.9 L553.9 114.0 L555.4 114.1 L557.0 114.4 L558.5 114.6 L560.0 114.9 L561.5 115.2 L563.0 115.4 L564.5 115.6 L566.0 115.8 L567.5 116.0 L569.0 116.1 L570.5 116.3 L572.0 116.4 L573.5 116.5 L575.0 116.6 L576.5 116.7 L578.0 116.8 L579.5 116.9 L581.0 117.0 L582.5 117.1 L584.0 117.2 L585.6 117.3 L587.1 117.5 L588.6 117.6 L590.1 117.7 L591.6 117.8 L593.1 118.0 L594.6 118.1 L596.1 118.3 L597.6 118.5 L599.1 118.6 L600.6 118.9 L602.1 119.1 L603.6 119.3 L605.1 119.6 L606.6 119.8 L608.1 120.1 L609.6 120.4 L611.1 120.6 L612.5 120.8 L614.0 121.0 L615.5 121.2 L617.0 121.3 L618.5 121.4 L620.0 121.4 L621.5 121.3 L623.0 121.2 L624.6 121.0 L626.1 120.8 L627.6 120.6 L629.1 120.3 L630.6 120.1 L632.2 120.0 L633.7 119.9 L635.2 119.8 L636.7 119.9 L638.1 120.0 L639.6 120.2 L641.1 120.4 L642.6 120.6 L644.1 120.9 L645.6 121.2 L647.0 121.6 L648.5 121.9 L650.0 122.3 L651.5 122.6 L653.0 122.9 L654.5 123.3 L656.0 123.6 L657.5 123.9 L659.0 124.1 L660.4 124.4 L661.9 124.8 L663.3 125.2 L664.7 125.7 L666.0 126.3 L667.2 127.1 L668.3 128.1" stroke="#d95319"/></g>
<g stroke="#5e5e5e" stroke-width="1.00"><rect x="510.40" y="5.45" width="163.80" height="208.80" fill="none"/><line x1="515.85" y1="214.25" x2="515.85" y2="211.65"/><line x1="515.85" y1="5.45" x2="515.85" y2="8.05"/><line x1="568.45" y1="214.25" x2="568.45" y2="211.65"/><line x1="568.45" y1="5.45" x2="568.45" y2="8.05"/><line x1="621.45" y1="214.25" x2="621.45" y2="211.65"/><line x1="621.45" y1="5.45" x2="621.45" y2="8.05"/><line x1="510.40" y1="179.45" x2="513.00" y2="179.45"/><line x1="674.20" y1="179.45" x2="671.60" y2="179.45"/><line x1="510.40" y1="144.60" x2="513.00" y2="144.60"/><line x1="674.20" y1="144.60" x2="671.60" y2="144.60"/><line x1="510.40" y1="110.10" x2="513.00" y2="110.10"/><line x1="674.20" y1="110.10" x2="671.60" y2="110.10"/><line x1="510.40" y1="74.80" x2="513.00" y2="74.80"/><line x1="674.20" y1="74.80" x2="671.60" y2="74.80"/><line x1="510.40" y1="40.05" x2="513.00" y2="40.05"/><line x1="674.20" y1="40.05" x2="671.60" y2="40.05"/></g>
<g font-size="13.33"><text x="515.15" y="232.1" text-anchor="middle" letter-spacing="-0.9">0</text><text x="567.75" y="232.1" text-anchor="middle" letter-spacing="-0.9">50</text><text x="620.75" y="232.1" text-anchor="middle" letter-spacing="-0.9">100</text><text x="673.90" y="232.1" text-anchor="middle" letter-spacing="-0.9">150</text><text x="505.50" y="219.20" text-anchor="end" letter-spacing="0.0">0</text><text x="505.20" y="184.35" text-anchor="end" letter-spacing="-0.3">0.5</text><text x="505.50" y="149.50" text-anchor="end" letter-spacing="0.0">1</text><text x="505.20" y="115.00" text-anchor="end" letter-spacing="-0.3">1.5</text><text x="505.50" y="79.70" text-anchor="end" letter-spacing="0.0">2</text><text x="505.20" y="44.95" text-anchor="end" letter-spacing="-0.3">2.5</text><text x="505.50" y="10.35" text-anchor="end" letter-spacing="0.0">3</text></g>
<text x="585.15" y="253.6" font-size="14.67">y</text><text x="592.95" y="246.8" font-size="8.6">+</text>
<g transform="translate(474.50 123.40) rotate(-90)"><text x="0" y="0" font-size="14.67" transform="translate(0.3 0) scale(0.95 1)">w</text><text x="10.4" y="-7.8" font-size="8.6">+</text><text x="10.3" y="6.4" font-size="10">rms</text></g>
<text x="459.5" y="12.7" font-size="15.3" letter-spacing="0.5" font-weight="bold" fill="#111">(c)</text>
</svg>
</body></html>
